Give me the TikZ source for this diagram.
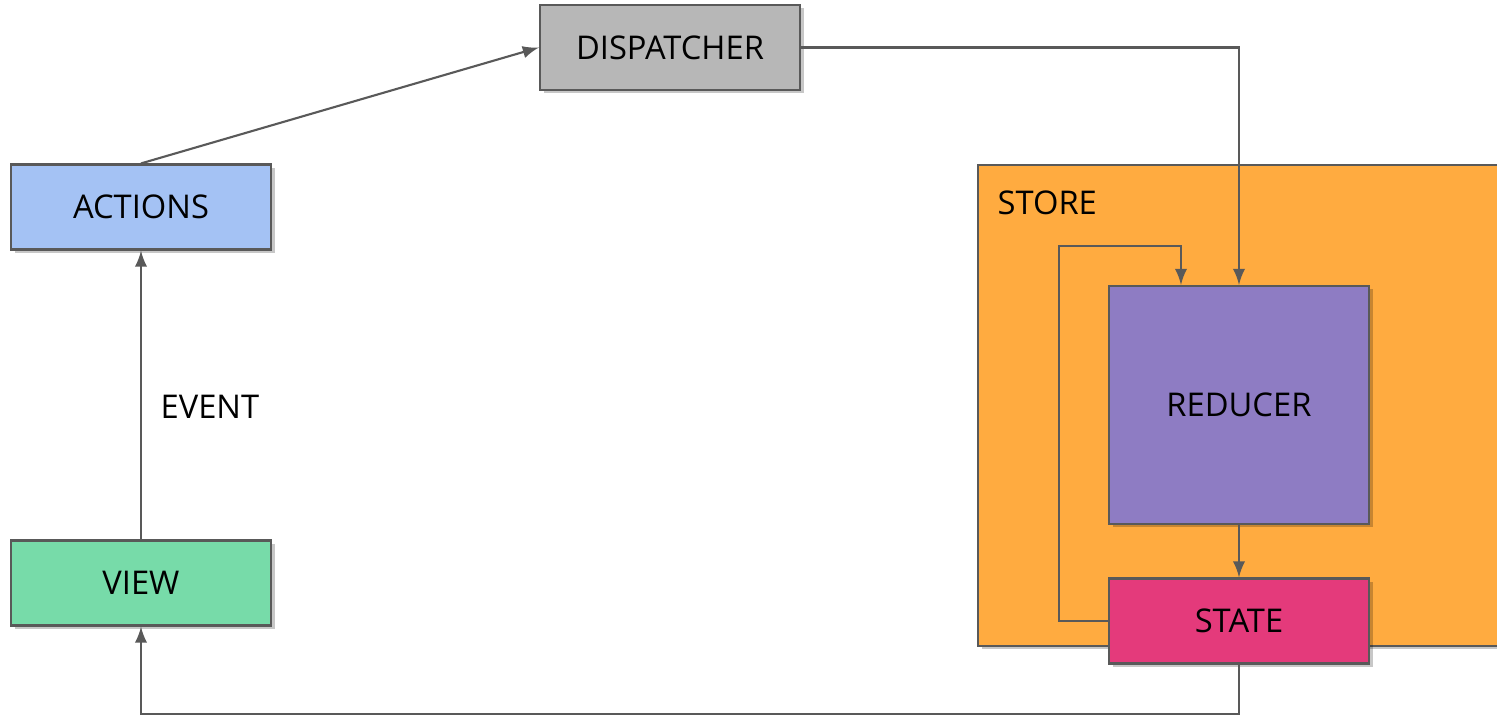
\documentclass[tikz,border=0pt]{standalone}
\usepackage{xcolor}
\usepackage{fontspec}
\setmainfont{Open Sans}
\usepackage{tikz}
\usetikzlibrary{arrows}
\usetikzlibrary{arrows.meta}
\usetikzlibrary{shapes}
\usetikzlibrary{shadows}
\usetikzlibrary{positioning}
\tikzset{>=latex}
\definecolor{edge}{HTML}{595959}
\definecolor{dispgray}{HTML}{B7B7B7}
\definecolor{actblue}{HTML}{A4C2F4}
\definecolor{viewgreen}{HTML}{77DBA9}
\definecolor{storeorange}{HTML}{FFAB40}
\definecolor{redpurple}{HTML}{8E7CC3}
\definecolor{statepink}{HTML}{E43A7B}
\tikzstyle{box} = [rectangle, draw = edge, line width = 0.6pt, minimum width = 2.6cm,
  minimum height = 0.85cm, inner sep = 0, font = \fontsize{9.3}{11}\selectfont,
  drop shadow = {shadow xshift = .35mm, shadow yshift = -.35mm, opacity = .22, fill = black}]
\tikzstyle{flow} = [-latex, draw = edge, line width = 0.6pt]

\begin{document}
\begin{tikzpicture}
\useasboundingbox (0, 0) rectangle (14.97, 7.17);
\node [box, fill = storeorange, minimum width = 5.8cm, minimum height = 4.81cm] (Store) at (12.68, 3.115) {};
\node [draw = none, anchor = west, inner sep = 0, font = \fontsize{9.3}{11}\selectfont] (StoreLbl) at (9.97, 5.14) {STORE};
\node [box, fill = dispgray] (Dis) at (6.70, 6.695) {DISPATCHER};
\node [box, fill = actblue] (Act) at (1.41, 5.10) {ACTIONS};
\node [box, fill = viewgreen] (View) at (1.41, 1.34) {VIEW};
\node [box, fill = redpurple, minimum height = 2.38cm] (Red) at (12.39, 3.12) {REDUCER};
\node [box, fill = statepink] (State) at (12.39, 0.96) {STATE};
\node [draw = none, anchor = west, inner sep = 0, font = \fontsize{9.3}{11}\selectfont] (Ev) at (1.60, 3.10) {EVENT};
\coordinate (Loop) at (10.59, 4.71);
\coordinate (Bot) at (12.39, 0.03);
\draw [flow] (View) to (Act);
\draw [flow] (Act.north) to (Dis.west);
\draw [flow] (Dis.east) -| (Red.north);
\draw [flow] (Red) to (State);
\draw [flow] (State.west) -| (Loop) -| ([xshift = -5.8mm]Red.north);
\draw [flow] (State.south) -- (Bot) -| (View.south);
\end{tikzpicture}
\end{document}
